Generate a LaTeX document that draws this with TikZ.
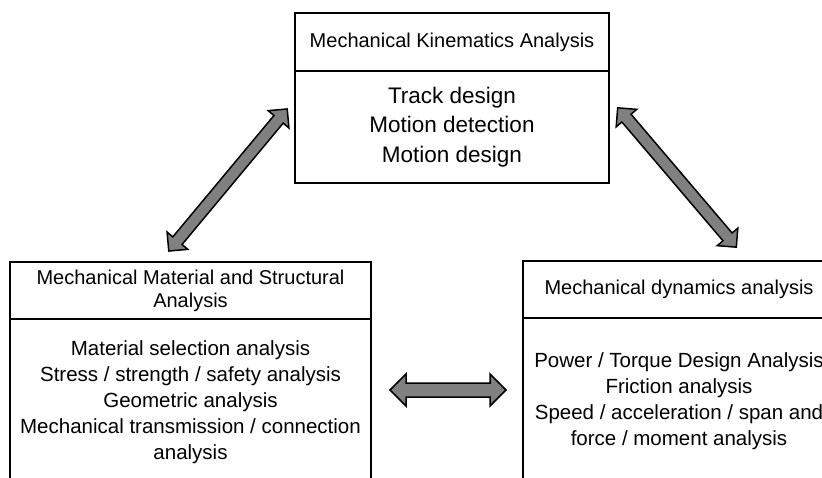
\documentclass[tikz,border=0pt]{standalone}
\usepackage{fontspec}
\setmainfont{Liberation Sans}
\usetikzlibrary{positioning,shapes.arrows}

\tikzset{
  box/.style={draw, line width=2pt, outer sep=0pt, inner sep=0pt, align=center},
  headtxt/.style={font=\fontsize{20}{23}\selectfont},
  bodytxt/.style={font=\fontsize{20.5}{26}\selectfont},
  toptxt/.style={font=\fontsize{22.5}{29.5}\selectfont},
  darrow/.style={double arrow, draw, fill=gray, line width=1.5pt, inner xsep=0pt,
    double arrow head indent=0pt},
  thinarrow/.style={darrow, inner ysep=5.25pt, double arrow head extend=7.5pt},
  widearrow/.style={darrow, inner ysep=6.25pt, double arrow head extend=9pt}
}

\begin{document}
\begin{tikzpicture}[x=1pt, y=-1pt]
  \useasboundingbox (0,0) rectangle (822,478);
  \clip (0,0) rectangle (822,478);

  % Kinematics (top)
  \node[box, headtxt, anchor=north west, minimum width=314pt, minimum height=58pt] (kinHead) at (295,13)
    {Mechanical Kinematics Analysis};
  \node[box, toptxt, below=0pt of kinHead, minimum width=314pt, minimum height=112pt] (kinBody)
    {Track design\\ Motion detection\\ Motion design};

  % Material / structure (bottom left)
  \node[box, headtxt, anchor=north west, minimum width=361pt, minimum height=57pt] (matHead) at (10,262)
    {Mechanical Material and Structural\\ Analysis};
  \node[box, bodytxt, below=0pt of matHead, minimum width=361pt, minimum height=166pt] (matBody)
    {Material selection analysis\\ Stress / strength / safety analysis\\ Geometric analysis\\
     Mechanical transmission / connection\\ analysis};

  % Dynamics (bottom right)
  \node[box, headtxt, anchor=north west, minimum width=312pt, minimum height=57pt] (dynHead) at (523,261)
    {Mechanical dynamics analysis};
  \node[box, bodytxt, below=0pt of dynHead, minimum width=312pt, minimum height=166pt] (dynBody)
    {Power / Torque Design Analysis\\ Friction analysis\\ Speed / acceleration / span and\\
     force / moment analysis};

  % arrow ends
  \coordinate (mk1) at (168,252);
  \coordinate (mk2) at (288,108);
  \coordinate (kd1) at (617,107);
  \coordinate (kd2) at (737,248);
  \coordinate (md1) at (389,390);
  \coordinate (md2) at (507,390);

  % double arrows
  \path (mk1) -- (mk2) node[midway, sloped, thinarrow, minimum height=185pt] (mkArrow) {};
  \path (kd1) -- (kd2) node[midway, sloped, thinarrow, minimum height=183pt] (kdArrow) {};
  \path (md1) -- (md2) node[midway, sloped, widearrow, minimum height=116pt] (mdArrow) {};

\end{tikzpicture}
\end{document}
